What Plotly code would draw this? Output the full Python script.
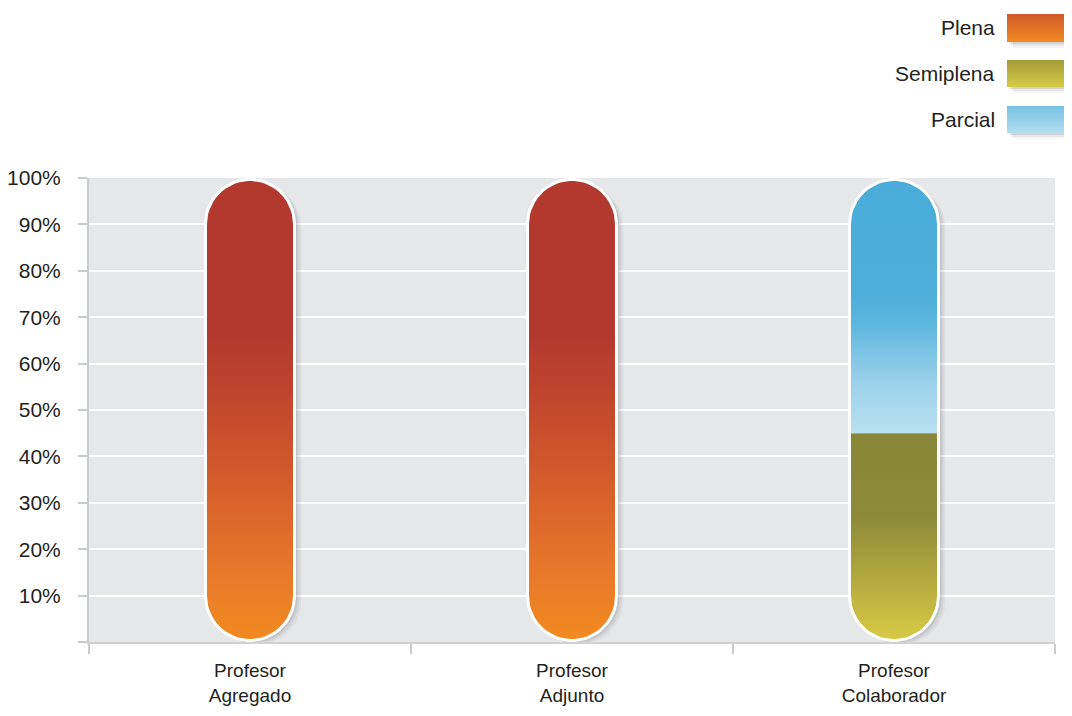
import numpy as np
import plotly.graph_objects as go

# ---------------- data ----------------
categories = ["Profesor<br>Agregado", "Profesor<br>Adjunto", "Profesor<br>Colaborador"]
series_names = ["Plena", "Semiplena", "Parcial"]
plena = [100, 100, 0]
semiplena = [0, 0, 45]
parcial = [0, 0, 55]
y_tickvals = [0, 10, 20, 30, 40, 50, 60, 70, 80, 90, 100]
y_ticktext = ["", "10%", "20%", "30%", "40%", "50%", "60%", "70%", "80%", "90%", "100%"]

# ---------------- styles ----------------
PAGE_M = 8                                   # default body margin of the html page
W, H = 1072 - PAGE_M, 716 - PAGE_M           # figure size so page == window
PL, PR, PT, PB = 89 - PAGE_M, 1055 - PAGE_M, 178 - PAGE_M, 642 - PAGE_M   # plot area px
XR = [0, 3]
YR = [0, 100]
PX_X = (PR - PL) / (XR[1] - XR[0])
PX_Y = (PB - PT) / (YR[1] - YR[0])
FONT = "Liberation Sans, Arial, sans-serif"
TXT = "#231f20"
AXG = "#c9cacc"

gradients = {
    "Plena": [[0, "#f28b20"], [0.15, "#e8782a"], [0.35, "#d45c2b"],
              [0.55, "#be432e"], [0.66, "#b3392e"], [1, "#b3392e"]],
    "Semiplena": [[0, "#d9cb45"], [0.25, "#bbae3f"], [0.6, "#8d8a39"], [1, "#8a8638"]],
    "Parcial": [[0, "#b9e0f0"], [0.2, "#9bd1ea"], [0.42, "#5fb7df"],
                [0.55, "#4caed9"], [1, "#4aacd8"]],
}
legend_grad = {
    "Plena": [[0, "#cf5a2a"], [1, "#f28a22"]],
    "Semiplena": [[0, "#a49b3a"], [1, "#d6ca45"]],
    "Parcial": [[0, "#76c1e2"], [1, "#b3ddef"]],
}

HW_PX = 44.5
PAD_PX = 1.5


def pill(xc, y0, y1, rb, rt, dx=0.0, dy=0.0, n=30):
    hw = HW_PX / PX_X
    ry = HW_PX / PX_Y
    xs, ys = [], []
    if rb:
        th = np.linspace(np.pi, 2 * np.pi, n)
        xs += list(xc + hw * np.cos(th))
        ys += list(y0 + ry + ry * np.sin(th))
    else:
        xs += [xc - hw, xc + hw]
        ys += [y0, y0]
    if rt:
        th = np.linspace(0, np.pi, n)
        xs += list(xc + hw * np.cos(th))
        ys += list(y1 - ry + ry * np.sin(th))
    else:
        xs += [xc + hw, xc - hw]
        ys += [y1, y1]
    xs.append(xs[0])
    ys.append(ys[0])
    return [v + dx for v in xs], [v + dy for v in ys]


fig = go.Figure()
series_vals = {"Plena": plena, "Semiplena": semiplena, "Parcial": parcial}
pad = PAD_PX / PX_Y
xcenters = [i + 0.5 for i in range(len(categories))]

for i, xc in enumerate(xcenters):
    total = sum(series_vals[s][i] for s in series_names)
    # soft shadow
    for off, alpha in [(7, 0.05), (5, 0.07), (3, 0.10)]:
        sx, sy = pill(xc, pad, total - pad, True, True, dx=off / PX_X, dy=-off * 0.6 / PX_Y)
        fig.add_trace(go.Scatter(x=sx, y=sy, mode="lines", fill="toself",
                                 fillcolor=f"rgba(60,60,70,{alpha})", line=dict(width=0),
                                 hoverinfo="skip", showlegend=False))
    segs = [(s, series_vals[s][i]) for s in series_names if series_vals[s][i] > 0]
    base = 0
    for k, (s, v) in enumerate(segs):
        y0 = base + (pad if k == 0 else 0)
        y1 = base + v - (pad if k == len(segs) - 1 else 0)
        px, py = pill(xc, y0, y1, k == 0, k == len(segs) - 1)
        fig.add_trace(go.Scatter(
            x=px, y=py, mode="lines", fill="toself", line=dict(width=0),
            fillgradient=dict(type="vertical", colorscale=gradients[s], start=base, stop=base + v),
            name=s, hoverinfo="skip", showlegend=False))
        base += v
    ox, oy = pill(xc, pad, total - pad, True, True)
    fig.add_trace(go.Scatter(x=ox, y=oy, mode="lines", line=dict(color="white", width=3),
                             hoverinfo="skip", showlegend=False))

# ---------------- legend (custom) ----------------
leg_y = {"Plena": (14, 42), "Semiplena": (60, 87), "Parcial": (106, 133)}
LX0, LX1 = 1007 - PAGE_M, 1064 - PAGE_M
for s in series_names:
    t, b = leg_y[s][0] - PAGE_M, leg_y[s][1] - PAGE_M
    for off, alpha in [(6, 0.06), (4, 0.08), (2, 0.10)]:
        fig.add_trace(go.Scatter(
            x=[LX0 + off, LX1 + off, LX1 + off, LX0 + off, LX0 + off],
            y=[t + off, t + off, b + off, b + off, t + off],
            xaxis="x2", yaxis="y2", mode="lines", fill="toself",
            fillcolor=f"rgba(60,60,70,{alpha})", line=dict(width=0),
            hoverinfo="skip", showlegend=False))
    fig.add_trace(go.Scatter(
        x=[LX0, LX1, LX1, LX0, LX0], y=[t, t, b, b, t], xaxis="x2", yaxis="y2",
        mode="lines", fill="toself", line=dict(width=0),
        fillgradient=dict(type="vertical", colorscale=legend_grad[s], start=t, stop=b),
        hoverinfo="skip", showlegend=False))
    fig.add_annotation(x=(997 - PAGE_M) / W, y=1 - ((t + b) / 2) / H, xref="paper", yref="paper",
                       text=s, showarrow=False, xanchor="right", yanchor="middle",
                       font=dict(family=FONT, size=21, color=TXT))

# ---------------- layout ----------------
fig.add_shape(type="rect", xref="x domain", yref="y domain", x0=0, x1=1, y0=0, y1=1,
              fillcolor="#e6e7e8", line=dict(width=0), layer="below")

fig.update_layout(
    width=W, height=H,
    margin=dict(l=0, r=0, t=0, b=0, pad=0),
    paper_bgcolor="white", plot_bgcolor="rgba(0,0,0,0)",
    showlegend=False,
    font=dict(family=FONT, color=TXT),
    xaxis=dict(domain=[PL / W, PR / W], range=XR, showgrid=False, zeroline=False,
               automargin=False,
               tickmode="array", tickvals=xcenters, ticktext=categories, ticks="",
               tickfont=dict(size=19, color=TXT), showline=True, linecolor="#d0d1d3", linewidth=2,
               ticklabelstandoff=10,
               minor=dict(tickmode="array", tickvals=[0, 1, 2, 3], ticks="outside", ticklen=10,
                          tickcolor=AXG, tickwidth=2, showgrid=False),
               fixedrange=True, anchor="y"),
    yaxis=dict(domain=[(H - PB) / H, (H - PT) / H], range=YR, tickmode="array",
               automargin=False,
               tickvals=y_tickvals, ticktext=y_ticktext, ticks="outside", ticklen=9,
               tickcolor=AXG, tickwidth=2, showgrid=True, gridcolor="white", gridwidth=2,
               zeroline=False, showline=True, linecolor=AXG, linewidth=2,
               tickfont=dict(size=21, color=TXT), ticklabelstandoff=13,
               fixedrange=True, anchor="x"),
    xaxis2=dict(domain=[0, 1], range=[0, W], visible=False, anchor="y2", fixedrange=True,
                automargin=False),
    yaxis2=dict(domain=[0, 1], range=[H, 0], visible=False, anchor="x2", fixedrange=True,
                automargin=False),
)

fig.write_html("out.html")
